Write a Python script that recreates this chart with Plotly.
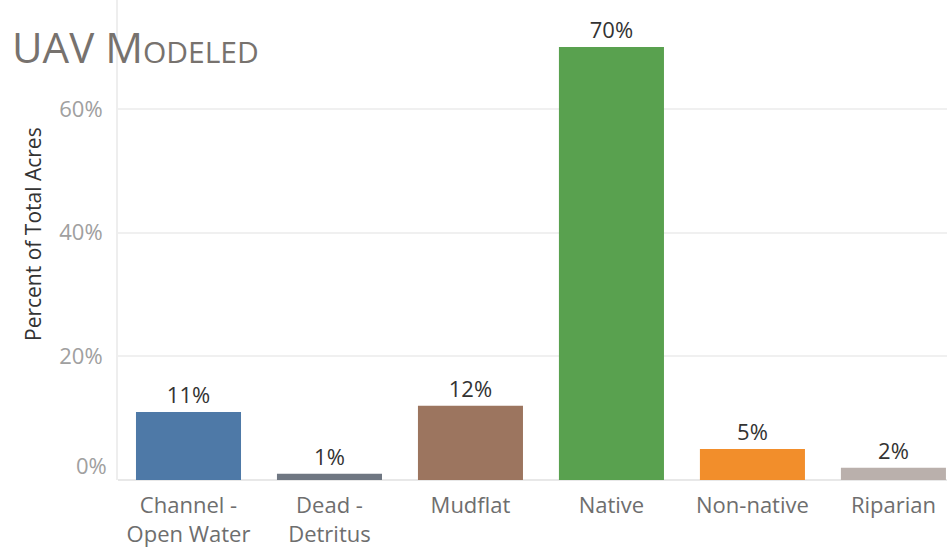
import plotly.graph_objects as go

# Land-cover classes and their share of total acres (percent)
categories = ["Channel -<br>Open Water", "Dead -<br>Detritus", "Mudflat", "Native", "Non-native", "Riparian"]
percent_values = [11, 1, 12, 70, 5, 2]
bar_colors = ["#4e79a7", "#6f7782", "#9c755f", "#59a14f", "#f28e2b", "#bab0ac"]
y_tick_values = [20, 40, 60]
y_tick_labels = ["20%", "40%", "60%"]

FONT = "Open Sans"
PLOT_H = 480  # plot area height in px
PLOT_W = 829  # plot area width in px

fig = go.Figure(
    go.Bar(
        x=list(range(len(categories))),
        y=percent_values,
        marker=dict(color=bar_colors, line=dict(width=0)),
        text=[f"{v}%" for v in percent_values],
        textposition="outside",
        textfont=dict(family=FONT, size=22, color="#333333"),
        cliponaxis=False,
        hoverinfo="skip",
    )
)

fig.update_layout(
    width=947,
    height=548,
    margin=dict(l=118, r=0, t=0, b=68),
    paper_bgcolor="white",
    plot_bgcolor="white",
    bargap=0.255,
    showlegend=False,
    xaxis=dict(
        tickmode="array",
        tickvals=list(range(len(categories))),
        ticktext=categories,
        range=[-0.5, 5.38],
        showgrid=False,
        zeroline=False,
        showline=False,
        ticks="",
        ticklabelstandoff=10,
        tickfont=dict(family=FONT, size=22, color="#6e6e6e"),
    ),
    yaxis=dict(
        range=[0, 77.6],
        tickmode="array",
        tickvals=y_tick_values,
        ticktext=y_tick_labels,
        showgrid=True,
        gridcolor="#f0f0f0",
        gridwidth=2,
        zeroline=True,
        zerolinecolor="#e8e8e8",
        zerolinewidth=2,
        showline=True,
        linecolor="#eeeeee",
        linewidth=2,
        ticks="",
        ticklabelstandoff=9,
        tickfont=dict(family=FONT, size=22, color="#a0a0a0"),
    ),
    annotations=[
        # bottom tick label sits slightly above the baseline
        dict(
            x=0, xref="paper", y=0, yref="y",
            text="0%", showarrow=False,
            xanchor="right", yanchor="middle", xshift=-9, yshift=15,
            font=dict(family=FONT, size=22, color="#a0a0a0"),
        ),
        dict(
            x=-85 / PLOT_W, xref="paper", y=(PLOT_H - 234) / PLOT_H, yref="paper",
            text="Percent of Total Acres", textangle=-90, showarrow=False,
            xanchor="center", yanchor="middle",
            font=dict(family=FONT, size=21, color="#333333"),
        ),
        dict(
            x=-108 / PLOT_W, xref="paper", y=1 - 16 / PLOT_H, yref="paper",
            text="UAV M<span style='font-size:30px'>ODELED</span>",
            showarrow=False, xanchor="left", yanchor="top",
            font=dict(family=FONT, size=42, color="#77726e"),
        ),
    ],
)

fig.write_html("out.html")
